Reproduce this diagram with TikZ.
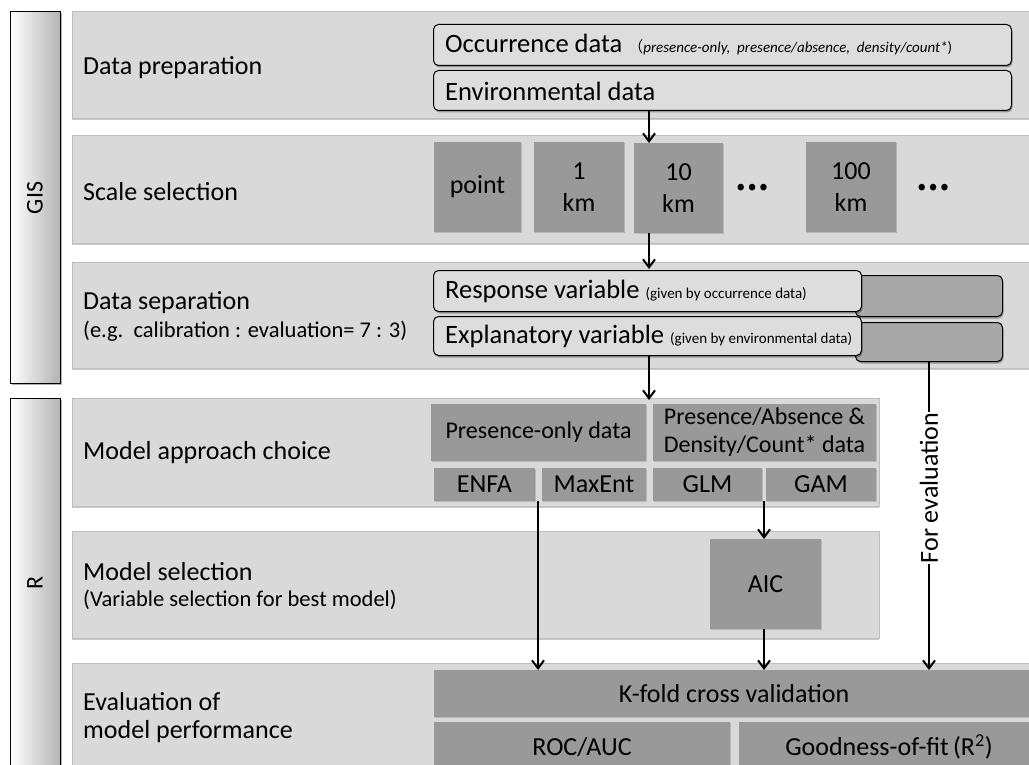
\documentclass[tikz,border=0pt]{standalone}
\usepackage{fontspec}
\setmainfont{Carlito}
\newfontfamily\cjk{Noto Sans CJK JP}
\usetikzlibrary{arrows.meta,shadows}

\definecolor{panelfill}{HTML}{D9D9D9}
\definecolor{panelline}{HTML}{BEBEBE}
\definecolor{boxdark}{HTML}{999999}
\definecolor{boxmid}{HTML}{A8A8A8}
\definecolor{boxlight}{HTML}{DDDDDD}

\tikzset{
  panelbox/.style={draw=panelline, fill=panelfill, line width=0.8pt,
    anchor=north west, inner sep=0pt,
    drop shadow={shadow xshift=0pt, shadow yshift=-2pt, opacity=0.35, fill=black!60}},
  sidebar/.style={draw=black, line width=1.2pt, left color=white, right color=black!30,
    anchor=north west, inner sep=0pt,
    drop shadow={shadow xshift=1.5pt, shadow yshift=-1.5pt, opacity=0.3, fill=black}},
  darkbox/.style={fill=boxdark, draw=none, inner sep=0pt, align=center,
    font=\fontsize{26}{32}\selectfont,
    drop shadow={shadow xshift=1pt, shadow yshift=-1pt, opacity=0.15, fill=black}},
  databox/.style={draw=black, line width=1pt, fill=boxlight, rounded corners=5pt,
    anchor=north west, inner sep=0pt,
    drop shadow={shadow xshift=1pt, shadow yshift=-2pt, opacity=0.3, fill=black}},
  spare/.style={draw=black, line width=1pt, fill=boxmid, rounded corners=5pt,
    anchor=north west, inner sep=0pt,
    drop shadow={shadow xshift=1pt, shadow yshift=-2pt, opacity=0.3, fill=black}},
  steplabel/.style={anchor=west, inner sep=0pt, font=\fontsize{26}{30}\selectfont},
  stepnote/.style={anchor=west, inner sep=0pt, font=\fontsize{22.5}{26}\selectfont},
  boxtext/.style={anchor=west, inner sep=0pt, font=\fontsize{26.5}{30}\selectfont},
  dots/.style={inner sep=0pt, font=\cjk\fontsize{30}{34}\selectfont\bfseries},
  flow/.style={line width=2pt, -{Straight Barb[length=8pt, width=12pt, line width=2pt]}},
}
\newcommand{\smallnote}{\fontsize{15}{18}\selectfont}

\begin{document}
\begin{tikzpicture}[x=1pt, y=-1pt]
\useasboundingbox (0,0) rectangle (1029,765);

% ---- side bars ----
\node[sidebar, minimum width=50pt, minimum height=372pt] (gis) at (10,11) {};
\node[rotate=90, font=\fontsize{24}{28}\selectfont] (gist) at (35,198) {GIS};
\node[sidebar, minimum width=50pt, minimum height=380pt] (rbar) at (10,398) {};
\node[rotate=90, font=\fontsize{24}{28}\selectfont] (rt) at (35,583) {R};

% ---- step panels ----
\node[panelbox, minimum width=970pt, minimum height=107pt] (p1) at (72,11) {};
\node[panelbox, minimum width=970pt, minimum height=108pt] (p2) at (72,135) {};
\node[panelbox, minimum width=970pt, minimum height=106pt] (p3) at (72,262) {};
\node[panelbox, minimum width=807pt, minimum height=108pt] (p4) at (72,398) {};
\node[panelbox, minimum width=807pt, minimum height=107pt] (p5) at (72,531) {};
\node[panelbox, minimum width=970pt, minimum height=120pt] (p6) at (72,663) {};

% ---- panel titles ----
\node[steplabel] (l1) at (83,68) {Data preparation};
\node[steplabel] (l2) at (83,192) {Scale selection};
\node[steplabel] (l3) at (83,303) {Data separation};
\node[stepnote]  (l3b) at (83,331) {(e.g.\ \ calibration : evaluation= 7 : 3)};
\node[steplabel] (l4) at (83,453) {Model approach choice};
\node[steplabel] (l5) at (83,572) {Model selection};
\node[stepnote]  (l5b) at (83,600) {(Variable selection for best model)};
\node[steplabel] (l6) at (83,702) {Evaluation of};
\node[steplabel] (l6b) at (83,732) {model performance};

% ---- data preparation ----
\node[databox, minimum width=578pt, minimum height=41pt] (occ) at (433,24) {};
\node[boxtext] (occt) at (445,45) {Occurrence data\hspace{6pt}{\smallnote{\cjk （}\textit{presence-only,\ \ presence/absence,\ \ density/count*})}};
\node[databox, minimum width=578pt, minimum height=40pt] (env) at (433,70) {};
\node[boxtext] (envt) at (445,91) {Environmental data};

% ---- scale boxes ----
\node[darkbox, minimum width=87pt, minimum height=90pt] (pt) at (477.5,187) {point};
\node[darkbox, minimum width=90pt, minimum height=90pt] (k1) at (579,187) {1\\km};
\node[darkbox, minimum width=89pt, minimum height=90pt] (k10) at (678.5,188) {10\\km};
\node[dots] (d1) at (752,188) {…};
\node[darkbox, minimum width=90pt, minimum height=90pt] (k100) at (851,187) {100\\km};
\node[dots] (d2) at (933,188) {…};

% ---- data separation ----
\node[spare, minimum width=147pt, minimum height=41pt] (s1) at (855,275) {};
\node[spare, minimum width=147pt, minimum height=39pt] (s2) at (855,322) {};
\node[databox, minimum width=428pt, minimum height=41pt] (resp) at (433,270) {};
\node[boxtext] (respt) at (445,291) {Response variable {\smallnote (given by occurrence data)}};
\node[databox, minimum width=428pt, minimum height=39pt] (expl) at (433,316) {};
\node[boxtext] (explt) at (445,336) {Explanatory variable {\smallnote (given by environmental data)}};

% ---- model approach ----
\node[darkbox, minimum width=215pt, minimum height=57pt, font=\fontsize{24}{28}\selectfont] (po) at (538.5,432.5) {Presence-only data};
\node[darkbox, minimum width=223pt, minimum height=57pt, font=\fontsize{24}{28}\selectfont] (pa) at (764.5,432.5) {Presence/Absence \&\\Density/Count* data};
\node[darkbox, minimum width=101pt, minimum height=33pt] (enfa) at (484.5,484.5) {ENFA};
\node[darkbox, minimum width=104pt, minimum height=33pt] (maxent) at (594,484.5) {MaxEnt};
\node[darkbox, minimum width=109pt, minimum height=33pt] (glm) at (707.5,484.5) {GLM};
\node[darkbox, minimum width=110pt, minimum height=33pt] (gam) at (821,484.5) {GAM};

% ---- model selection ----
\node[darkbox, minimum width=111pt, minimum height=90pt] (aic) at (765.5,584) {AIC};

% ---- evaluation ----
\node[darkbox, minimum width=600pt, minimum height=47pt] (kfold) at (734,693.5) {};
\node[inner sep=0pt, font=\fontsize{26}{30}\selectfont] (kfoldt) at (734,693.5) {K-fold cross validation};
\node[darkbox, minimum width=296pt, minimum height=50pt] (roc) at (582,747) {ROC/AUC};
\node[darkbox, minimum width=300pt, minimum height=50pt] (gof) at (889,747) {Goodness-of-fit\,(R\textsuperscript{2})};

% ---- flow ----
\coordinate (a1) at (649,110);
\draw[flow] (a1) -- (649,143);
\coordinate (a2) at (649,233);
\draw[flow] (a2) -- (649,269);
\coordinate (a3) at (649,356);
\draw[flow] (a3) -- (649,400);
\coordinate (a4) at (538,501);
\coordinate (a4e) at (538,670);
\draw[flow] (a4) -- (a4e);
\coordinate (a5) at (764,501);
\draw[flow] (a5) -- (764,539);
\coordinate (a6) at (764,629);
\coordinate (a6e) at (764,670);
\draw[flow] (a6) -- (a6e);

% evaluation share, passing by the side
\coordinate (ev0) at (929,361);
\coordinate (ev1) at (929,670);
\draw[flow] (ev0) -- (ev1);
\node[rotate=90, fill=white, inner sep=1pt, font=\fontsize{26}{30}\selectfont] (evt) at (929,488) {For evaluation};
\end{tikzpicture}
\end{document}
